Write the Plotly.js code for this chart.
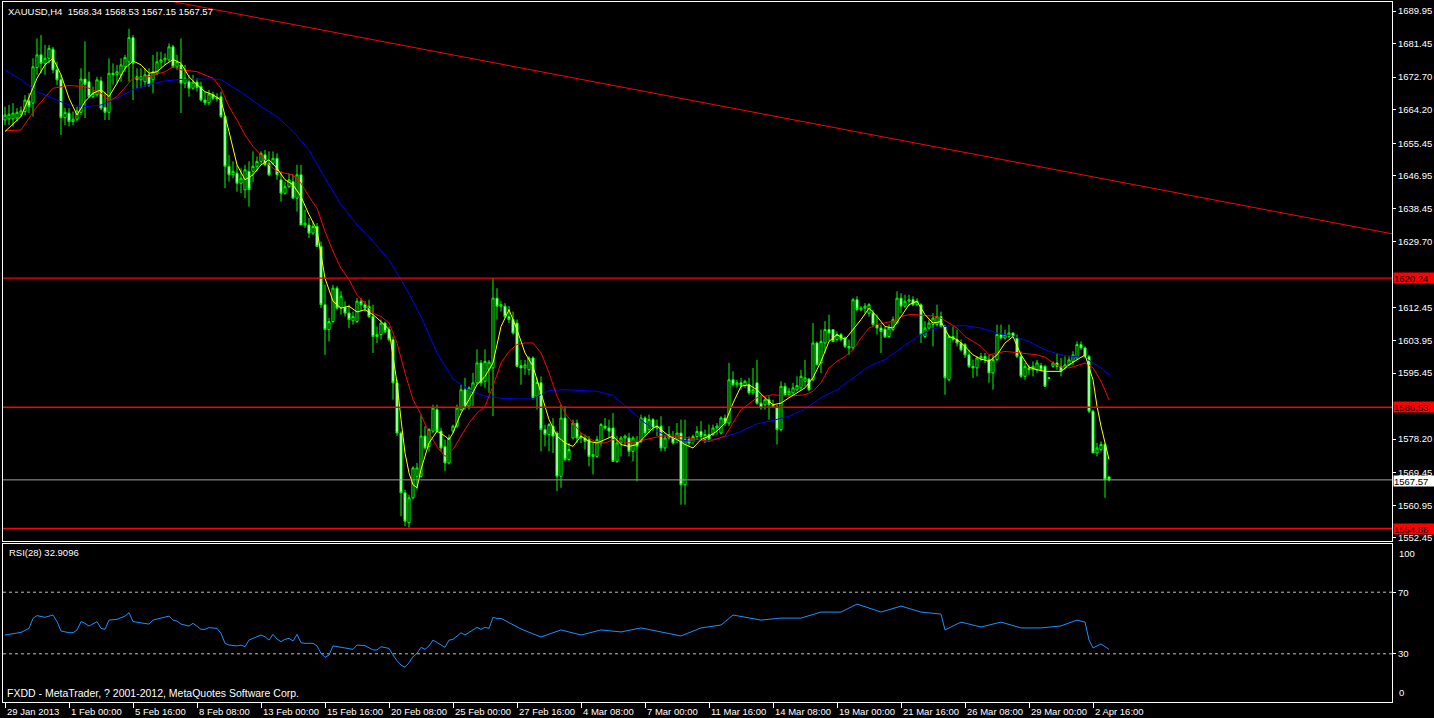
<!DOCTYPE html>
<html>
<head>
<meta charset="utf-8">
<script src="https://cdn.plot.ly/plotly-3.0.1.min.js"></script>
<style>
html,body{margin:0;padding:0;background:#000;}
#chart{width:1434px;height:718px;}
</style>
</head>
<body>
<div id="chart"></div>
<script>
// ---------------- DATA ----------------
const symbolTitle = "XAUUSD,H4  1568.34 1568.53 1567.15 1567.57";
const rsiTitle = "RSI(28) 32.9096";
const footerText = "FXDD - MetaTrader, ? 2001-2012, MetaQuotes Software Corp.";

const timeLabels = ["29 Jan 2013","1 Feb 00:00","5 Feb 16:00","8 Feb 08:00","13 Feb 00:00","15 Feb 16:00",
  "20 Feb 08:00","25 Feb 00:00","27 Feb 16:00","4 Mar 08:00","7 Mar 00:00","11 Mar 16:00","14 Mar 08:00",
  "19 Mar 00:00","21 Mar 16:00","26 Mar 08:00","29 Mar 00:00","2 Apr 16:00"];
const barsPerLabel = 16;

// visible price scale labels (the ones under the level boxes are hidden in the reference)
const priceTicks = [1689.95,1681.45,1672.70,1664.20,1655.45,1646.95,1638.45,1629.70,1612.45,1603.95,1595.45,1578.20,1569.45,1560.95,1552.45];
const priceRange = [1551.62, 1692.30];

const openP = [1661.5,1661.8,1661.8,1662.0,1663.0,1663.7,1666.5,1665.9,1675.2,1678.5,1676.3,1677.6,1680.0,1674.6,1672.0,1662.1,1663.3,1661.1,1661.7,1663.5,
1672.2,1671.5,1667.6,1668.1,1671.7,1664.8,1663.5,1673.7,1673.4,1673.3,1675.4,1676.7,1683.0,1672.8,1672.0,1671.5,1673.3,1672.0,1673.7,1676.6,
1677.2,1677.2,1680.6,1675.4,1675.9,1671.1,1671.5,1669.8,1671.4,1670.2,1666.7,1666.0,1668.1,1667.4,1667.6,1662.4,1649.4,1647.2,1647.6,1645.0,
1643.3,1648.1,1648.1,1649.4,1650.7,1652.4,1650.2,1650.2,1651.5,1645.9,1642.4,1644.1,1645.4,1641.1,1647.2,1634.1,1634.1,1632.0,1633.7,1628.5,
1613.3,1606.8,1608.9,1617.6,1612.4,1612.6,1611.1,1609.1,1608.9,1614.2,1613.3,1612.9,1610.2,1605.0,1605.5,1608.5,1606.8,1604.2,1592.9,1579.8,
1564.2,1556.4,1562.9,1568.5,1568.5,1579.0,1576.3,1580.3,1585.9,1580.3,1576.3,1572.0,1580.3,1581.6,1585.9,1591.1,1586.8,1590.3,1592.9,1598.1,
1593.3,1596.5,1596.8,1615.0,1612.9,1612.9,1610.2,1609.4,1608.5,1597.4,1596.8,1596.3,1599.4,1589.4,1592.9,1580.7,1579.4,1581.6,1579.8,1568.5,
1583.7,1572.9,1578.5,1582.4,1578.5,1578.5,1578.1,1573.7,1573.7,1577.2,1581.6,1581.1,1581.1,1572.4,1577.2,1578.5,1578.5,1575.0,1577.6,1577.6,
1583.7,1580.7,1583.3,1581.1,1581.6,1575.9,1578.5,1578.5,1578.1,1579.8,1566.3,1578.1,1577.6,1578.9,1580.2,1578.1,1579.4,1579.4,1581.1,1579.8,
1583.7,1582.4,1593.7,1592.4,1592.9,1592.2,1592.4,1590.3,1592.9,1587.6,1587.2,1588.5,1587.2,1586.4,1580.7,1592.0,1589.8,1590.3,1591.1,1591.6,
1593.3,1593.9,1593.7,1603.3,1598.1,1603.3,1606.8,1606.8,1604.2,1605.5,1604.6,1602.4,1602.0,1614.6,1612.0,1612.4,1611.1,1611.1,1608.1,1607.2,
1606.9,1605.0,1606.8,1608.5,1615.0,1612.9,1614.2,1614.6,1613.3,1613.3,1605.0,1607.2,1608.1,1608.1,1610.2,1607.6,1593.7,1605.0,1604.2,1603.3,
1602.9,1600.2,1597.2,1596.8,1599.0,1599.8,1599.0,1595.5,1599.0,1605.5,1604.6,1605.0,1605.9,1604.6,1599.8,1594.6,1596.8,1596.3,1596.3,1597.4,
1597.2,1594.2,1597.2,1598.1,1597.2,1596.8,1597.6,1598.5,1599.4,1602.9,1602.0,1599.8,1585.5,1574.6,1575.5,1576.8,1568.34];

const highP = [1665.0,1665.4,1665.9,1664.6,1665.0,1668.0,1668.5,1677.6,1682.8,1683.7,1681.1,1681.1,1680.6,1676.7,1673.3,1664.6,1664.6,1663.7,1665.0,1675.0,
1682.0,1674.1,1670.2,1672.8,1672.8,1668.9,1677.6,1676.3,1675.9,1677.6,1678.5,1685.3,1683.7,1675.0,1675.0,1675.0,1675.0,1678.5,1679.3,1679.3,
1678.9,1681.5,1681.1,1678.5,1682.8,1675.9,1673.3,1673.3,1672.4,1671.5,1668.9,1669.4,1668.9,1668.5,1668.9,1662.8,1652.4,1650.7,1649.8,1648.9,
1649.8,1650.7,1653.3,1652.0,1653.3,1653.7,1653.3,1653.3,1652.8,1648.1,1645.4,1647.6,1647.2,1649.8,1649.8,1638.1,1635.9,1635.0,1634.6,1629.8,
1618.5,1609.8,1618.5,1618.1,1616.8,1614.2,1613.3,1611.5,1615.0,1615.0,1614.2,1614.6,1613.3,1607.6,1609.4,1608.9,1607.6,1605.0,1593.7,1580.3,
1565.0,1563.7,1571.1,1572.0,1584.6,1581.6,1581.1,1587.2,1587.2,1581.1,1578.1,1579.4,1582.0,1587.2,1592.4,1594.2,1592.0,1595.5,1601.6,1598.9,
1601.6,1598.9,1620.2,1617.6,1614.2,1613.7,1612.9,1611.5,1609.4,1598.9,1598.9,1599.8,1599.8,1594.2,1594.6,1582.0,1582.4,1583.7,1580.3,1587.2,
1586.8,1577.2,1583.3,1583.3,1579.8,1579.4,1579.0,1577.2,1579.0,1582.4,1583.7,1583.3,1585.0,1579.0,1579.0,1579.4,1579.8,1579.0,1579.0,1584.6,
1584.2,1584.6,1583.7,1583.3,1584.2,1579.8,1581.6,1580.3,1582.4,1583.3,1583.3,1578.9,1579.4,1581.6,1582.9,1580.7,1582.0,1582.0,1582.4,1584.2,
1584.6,1598.1,1595.9,1593.7,1594.2,1593.7,1594.2,1596.8,1598.9,1589.8,1589.0,1589.4,1588.5,1587.2,1593.3,1592.9,1591.6,1592.9,1594.6,1596.3,
1598.9,1594.2,1608.5,1603.7,1606.8,1609.0,1610.7,1606.9,1606.3,1605.9,1605.0,1604.2,1615.0,1615.5,1612.9,1613.7,1613.7,1612.0,1610.7,1608.1,
1607.6,1608.1,1610.2,1616.8,1616.3,1615.9,1615.9,1615.5,1615.0,1613.7,1609.0,1609.4,1611.1,1613.3,1611.5,1608.1,1605.5,1607.6,1606.8,1604.2,
1603.3,1601.5,1599.0,1599.8,1600.7,1600.7,1600.2,1600.2,1608.1,1608.1,1606.8,1608.1,1606.1,1605.5,1601.1,1598.1,1597.6,1598.5,1598.9,1598.1,
1597.6,1594.3,1598.5,1600.7,1599.4,1599.8,1599.8,1601.1,1603.7,1603.7,1602.4,1600.2,1585.9,1577.2,1577.6,1577.2,1568.53];

const lowP = [1660.2,1660.2,1659.8,1661.1,1662.4,1662.8,1663.3,1662.4,1673.3,1673.7,1673.3,1676.3,1673.7,1670.7,1657.6,1660.2,1659.8,1660.2,1661.1,1662.8,
1662.0,1667.2,1667.2,1667.6,1664.1,1661.5,1661.5,1670.7,1671.1,1671.5,1674.1,1671.5,1666.7,1669.8,1669.8,1670.2,1670.2,1668.5,1673.3,1675.0,
1675.9,1676.7,1675.0,1674.6,1663.3,1669.8,1667.6,1669.4,1668.9,1666.3,1665.4,1665.4,1666.7,1666.3,1662.0,1643.7,1645.4,1646.3,1642.8,1642.4,
1641.1,1638.9,1645.4,1648.1,1649.8,1649.4,1646.8,1649.8,1645.9,1640.2,1642.0,1643.7,1641.1,1637.6,1634.1,1633.3,1630.7,1631.5,1628.5,1612.4,
1600.2,1603.7,1608.5,1612.0,1610.7,1610.2,1607.2,1608.1,1608.5,1611.5,1611.5,1609.8,1600.7,1603.3,1604.2,1605.9,1603.7,1588.5,1579.0,1558.1,
1555.5,1555.1,1562.4,1565.0,1568.1,1575.5,1575.0,1579.8,1579.8,1575.0,1569.8,1571.6,1579.8,1581.1,1585.5,1585.9,1585.9,1586.8,1592.4,1592.0,
1591.6,1590.3,1584.2,1609.4,1611.5,1609.8,1608.5,1605.5,1597.2,1592.4,1595.0,1595.0,1588.5,1585.9,1575.0,1576.3,1575.0,1574.6,1564.6,1565.5,
1572.4,1572.4,1578.1,1577.2,1577.2,1575.5,1571.1,1569.0,1573.3,1576.3,1580.7,1578.5,1572.4,1572.0,1573.7,1576.3,1573.7,1572.4,1567.2,1577.2,
1579.0,1579.8,1580.3,1579.0,1575.0,1575.0,1578.1,1576.8,1577.2,1561.1,1561.1,1576.3,1576.8,1578.1,1578.1,1577.2,1577.6,1579.0,1579.4,1579.4,
1581.6,1581.6,1592.0,1591.6,1591.1,1591.6,1589.8,1589.8,1587.2,1585.9,1585.9,1583.3,1586.4,1576.8,1580.2,1589.4,1589.4,1589.8,1590.7,1591.1,
1592.0,1590.7,1593.3,1597.6,1595.5,1600.7,1603.7,1603.5,1603.7,1603.7,1602.0,1600.2,1601.5,1611.6,1611.6,1611.1,1610.2,1607.6,1605.5,1600.7,
1604.6,1604.6,1606.3,1608.1,1611.1,1612.4,1612.9,1612.9,1612.9,1603.3,1604.6,1606.8,1602.4,1607.6,1607.2,1589.8,1593.3,1603.7,1602.4,1601.1,
1599.4,1596.8,1594.2,1594.6,1598.5,1598.1,1592.9,1591.1,1598.5,1604.2,1604.2,1604.6,1604.6,1599.4,1594.2,1593.7,1595.0,1594.6,1595.5,1595.9,
1592.0,1594.0,1596.8,1596.3,1594.6,1596.3,1597.2,1597.6,1598.9,1601.5,1599.4,1585.0,1574.6,1573.7,1575.0,1562.9,1567.15];

const closeP = [1662.8,1663.0,1663.3,1663.5,1663.9,1666.7,1665.0,1675.4,1678.5,1676.3,1677.6,1680.2,1674.6,1672.0,1662.1,1663.5,1661.1,1661.7,1663.9,1672.2,
1670.8,1667.6,1668.5,1672.0,1664.6,1663.5,1673.7,1673.3,1674.1,1675.9,1677.8,1683.0,1676.3,1672.0,1672.8,1673.3,1670.7,1674.1,1676.7,1677.2,
1677.6,1680.6,1675.4,1676.7,1671.1,1672.4,1669.8,1671.4,1670.0,1666.7,1666.0,1668.3,1667.2,1667.0,1662.4,1649.4,1647.2,1648.1,1645.0,1646.3,
1648.5,1643.3,1649.4,1650.7,1652.8,1649.8,1647.2,1651.5,1647.2,1642.4,1644.1,1645.9,1641.1,1647.2,1634.1,1634.6,1632.0,1633.7,1628.5,1613.3,
1606.8,1608.9,1617.6,1612.4,1615.5,1611.1,1609.4,1610.2,1614.2,1613.3,1612.4,1610.2,1605.0,1605.5,1608.5,1606.3,1604.2,1592.9,1579.8,1564.2,
1556.8,1562.9,1570.7,1570.7,1579.0,1575.9,1580.7,1586.3,1580.3,1575.9,1572.0,1578.5,1581.6,1586.3,1591.1,1586.8,1591.6,1592.9,1598.1,1592.9,
1598.5,1598.3,1615.0,1612.9,1613.3,1610.2,1609.4,1605.9,1597.2,1596.8,1597.6,1599.4,1589.0,1593.0,1580.7,1579.4,1582.0,1579.0,1568.5,1583.7,
1572.9,1575.5,1582.4,1578.5,1579.0,1577.6,1573.7,1574.2,1578.1,1582.0,1581.1,1580.3,1572.4,1577.2,1578.5,1579.0,1575.0,1578.5,1576.3,1583.7,
1579.8,1583.3,1581.1,1581.6,1575.9,1578.5,1579.4,1577.2,1579.8,1566.3,1578.1,1577.2,1578.9,1580.2,1578.9,1579.4,1578.1,1581.1,1581.6,1583.7,
1582.4,1593.7,1592.4,1592.9,1592.2,1593.3,1590.3,1591.1,1587.6,1586.4,1588.5,1587.2,1586.8,1580.7,1592.0,1589.8,1590.7,1591.6,1592.2,1594.6,
1594.2,1591.1,1603.3,1597.6,1603.7,1606.8,1605.9,1603.7,1605.5,1604.2,1602.4,1602.0,1614.6,1612.0,1612.4,1612.9,1613.3,1608.1,1607.2,1606.3,
1604.9,1607.2,1609.4,1615.0,1612.9,1614.2,1614.6,1613.3,1614.2,1605.5,1607.2,1608.5,1609.8,1610.2,1607.6,1594.2,1605.0,1604.2,1603.3,1601.5,
1600.2,1597.2,1596.8,1599.4,1599.8,1599.0,1595.5,1599.0,1605.5,1604.6,1605.5,1605.9,1605.0,1599.8,1594.6,1597.2,1596.3,1597.2,1598.1,1596.3,
1592.0,1594.1,1598.1,1597.2,1595.9,1597.6,1598.9,1600.2,1602.9,1602.0,1599.8,1585.5,1574.6,1575.9,1576.8,1567.7,1567.57];

// Fast MA (yellow)
const maFastX = [0,4,8,10,12,14,16,18,20,22,24,26,28,30,32,34,36,38,40,42,44,46,48,50,52,54,56,58,60,62,64,66,68,70,72,74,76,78,80,82,84,86,88,90,
92,94,96,98,99,100,101,102,103,104,106,108,110,111,112,114,116,118,120,122,124,126,128,130,132,134,136,138,140,142,144,146,148,150,152,154,156,158,160,162,163,
164,166,168,170,172,174,176,178,180,182,184,186,188,190,192,194,196,198,200,202,204,206,208,210,212,214,216,218,220,222,224,226,228,230,232,234,236,238,240,242,244,246,248,250,252,254,256,258,260,262,264,266,268,270,272,273,274,275,276];
const maFastY = [1658.5,1662.4,1672.4,1675.9,1677.6,1673.3,1667.2,1662.8,1666.3,1668.5,1669.4,1667.6,1671.1,1675.0,1676.9,1675.9,1673.7,1674.1,1675.9,1677.3,1676.3,1672.8,1670.7,1668.9,1668.1,1666.7,1658.5,1649.8,1645.9,1647.2,1649.8,1651.1,1648.9,1645.9,1644.6,1641.5,1636.8,1632.8,1620.2,1614.2,1612.4,1612.9,1611.4,1612.0,
1610.7,1608.9,1606.8,1592.9,1583.3,1574.6,1569.4,1566.3,1565.5,1570.3,1577.2,1580.3,1579.0,1578.1,1579.8,1585.0,1588.5,1592.4,1594.6,1598.1,1607.6,1612.0,1606.8,1600.7,1597.2,1590.3,1583.3,1579.0,1577.2,1576.3,1579.0,1577.6,1577.2,1578.1,1579.0,1576.8,1576.3,1576.8,1579.0,1581.1,1581.6,
1580.7,1579.0,1578.1,1576.8,1575.9,1578.1,1579.0,1580.3,1582.4,1587.6,1592.0,1592.4,1591.1,1589.0,1587.2,1587.6,1589.0,1590.3,1591.6,1594.2,1598.5,1603.7,1605.5,1604.2,1606.8,1609.4,1612.4,1610.2,1607.6,1607.2,1610.2,1613.3,1614.2,1610.7,1608.5,1608.9,1605.0,1604.2,1602.4,1600.2,1599.1,1598.5,1600.2,1603.3,1605.0,1600.2,1597.0,1596.3,1595.9,1595.9,1595.9,1597.6,1598.9,1600.2,1593.7,1586.8,1581.6,1577.2,1572.9];

// Medium MA (red)
const maMidX = [0,4,8,12,16,20,24,26,28,32,36,40,42,44,48,52,54,56,58,60,62,64,66,68,70,72,74,76,78,80,82,84,86,88,90,
92,94,96,98,100,102,104,106,108,110,112,114,116,118,120,122,124,126,128,130,132,134,136,138,140,142,144,146,148,150,152,154,156,158,160,162,
164,168,172,176,180,182,184,188,192,196,200,202,204,206,208,210,212,214,216,218,220,222,224,226,228,230,232,234,236,238,240,242,244,246,248,250,252,254,256,258,260,262,264,266,268,270,272,274,276];
const maMidY = [1658.7,1658.9,1665.0,1669.8,1670.5,1670.2,1668.5,1666.5,1667.6,1672.4,1672.8,1674.1,1675.4,1674.6,1674.1,1672.4,1669.8,1665.0,1661.5,1657.6,1654.6,1652.4,1649.8,1648.1,1647.6,1647.2,1645.0,1641.5,1638.5,1632.4,1627.2,1622.8,1619.8,1615.9,1613.7,
1611.1,1610.2,1608.5,1603.3,1595.5,1588.5,1584.6,1579.8,1576.3,1573.7,1575.5,1579.0,1582.4,1585.0,1586.8,1592.0,1598.1,1601.1,1602.9,1603.3,1603.3,1600.7,1595.5,1589.4,1585.0,1582.4,1579.8,1578.5,1577.2,1577.2,1578.1,1577.6,1577.2,1577.6,1578.1,1578.5,
1579.0,1579.0,1578.3,1577.6,1579.0,1582.4,1585.9,1589.0,1589.8,1589.4,1589.8,1590.7,1592.9,1596.8,1598.5,1599.8,1601.5,1604.6,1607.2,1608.1,1608.5,1609.0,1610.2,1610.7,1610.7,1610.4,1610.4,1609.8,1608.5,1607.2,1605.0,1603.7,1602.4,1600.2,1600.7,1601.1,1600.9,1600.7,1600.5,1600.2,1599.6,1598.1,1597.0,1596.8,1597.4,1598.1,1596.8,1593.3,1588.5];

// Slow MA (blue)
const maSlowX = [0,4,8,12,16,20,24,28,32,36,40,44,48,52,54,56,60,64,68,72,76,80,84,88,91,
92,96,100,104,108,112,116,120,124,128,132,134,136,140,144,148,152,156,160,163,
164,168,172,176,180,184,188,192,196,200,204,208,212,216,220,224,228,232,236,240,244,248,252,256,260,264,268,270,272,274,276];
const maSlowY = [1674.6,1672.0,1668.9,1667.2,1665.4,1665.0,1665.4,1667.2,1669.4,1670.8,1671.7,1672.1,1672.1,1672.2,1672.0,1670.7,1668.1,1665.0,1662.4,1658.5,1653.7,1646.3,1639.4,1634.1,1631.1,
1629.8,1625.0,1618.1,1610.2,1600.7,1593.9,1591.1,1589.4,1588.9,1588.7,1588.7,1589.8,1590.9,1591.1,1590.9,1590.7,1589.6,1585.9,1582.4,1580.3,
1579.8,1578.1,1577.6,1577.9,1578.8,1580.2,1582.2,1583.1,1584.2,1586.1,1589.0,1591.1,1594.2,1597.2,1599.0,1602.0,1604.9,1607.0,1607.8,1607.8,1607.2,1605.9,1605.0,1603.7,1601.5,1600.2,1599.6,1599.4,1598.1,1596.8,1595.0];

// RSI(28)
const rsiX = [0,4,6,7,8,10,12,13,14,16,17,18,19,20,21,23,24,25,26,28,30,31,32,34,36,37,39,41,42,43,44,46,47,48,49,50,51,53,54,55,
56,58,59,60,61,63,64,65,66,67,68,69,70,71,72,73,74,75,77,78,79,80,81,82,84,86,87,88,90,92,93,94,96,97,98,99,100,101,102,103,
104,105,106,107,108,109,110,111,112,113,114,115,117,118,119,120,121,122,123,124,129,134,139,144,149,154,159,164,169,174,
179,182,189,194,199,204,209,213,219,224,229,234,235,239,244,249,254,259,264,268,270,271,272,274,276];
const rsiY = [42.2,43.9,46.5,53.0,54.8,53.7,55.2,50.9,44.8,43.7,43.7,45.4,50.9,49.8,48.0,50.9,46.5,45.9,51.9,52.4,54.5,56.7,50.9,50.2,49.3,51.9,53.0,54.5,51.9,51.3,49.3,48.0,49.8,48.0,45.9,45.9,47.0,46.5,43.3,36.8,
35.7,35.1,35.7,34.6,38.9,41.1,42.2,41.1,38.9,42.6,39.6,37.9,39.4,40.0,38.3,42.6,37.2,36.8,36.8,35.1,30.3,27.7,29.2,35.1,34.2,33.1,32.9,35.7,35.3,32.5,32.5,34.6,33.5,29.2,25.5,22.7,21.2,24.2,28.1,30.3,
34.2,32.9,35.1,38.9,37.2,35.7,34.2,38.9,39.4,41.5,43.7,42.2,45.4,47.2,45.9,47.2,46.5,53.7,53.0,53.0,46.1,40.9,45.5,42.2,45.5,44.2,46.8,44.2,41.6,46.8,
48.7,55.2,51.9,53.2,53.2,57.1,57.1,62.3,57.1,61.0,57.1,55.8,45.5,50.6,47.4,50.6,46.8,46.8,48.1,51.9,50.6,39.0,33.8,36.4,32.9];
const rsiLevels = [70, 30];
const rsiLabels = [100, 70, 30, 0];

// Chart objects
const redLevels = [1620.24, 1586.53, 1554.88];
const currentPrice = 1567.57;
const trendX = [40, 346.75];
const trendY = [1692.8, 1631.8];

// ---------------- BUILD ----------------
const FONT = "Liberation Sans, Arial, sans-serif";
const barIdx = closeP.map((_, i) => i);
const xRange = [-0.5, 346.75];
const tickIdx = timeLabels.map((_, k) => k * barsPerLabel);

const traces = [
  {
    type: 'candlestick', x: barIdx, open: openP, high: highP, low: lowP, close: closeP,
    xaxis: 'x', yaxis: 'y',
    increasing: {line: {color: '#00FF00', width: 1}, fillcolor: '#000000'},
    decreasing: {line: {color: '#00FF00', width: 1}, fillcolor: '#FFFFFF'},
    whiskerwidth: 0, hoverinfo: 'skip', showlegend: false
  },
  {type: 'scatter', mode: 'lines', x: maSlowX, y: maSlowY, xaxis: 'x', yaxis: 'y',
   line: {color: '#0000FF', width: 1}, hoverinfo: 'skip', showlegend: false},
  {type: 'scatter', mode: 'lines', x: maMidX, y: maMidY, xaxis: 'x', yaxis: 'y',
   line: {color: '#FF0000', width: 1}, hoverinfo: 'skip', showlegend: false},
  {type: 'scatter', mode: 'lines', x: maFastX, y: maFastY, xaxis: 'x', yaxis: 'y',
   line: {color: '#FFFF00', width: 1}, hoverinfo: 'skip', showlegend: false},
  {type: 'scatter', mode: 'lines', x: rsiX, y: rsiY, xaxis: 'x2', yaxis: 'y2',
   line: {color: '#1E90FF', width: 1}, hoverinfo: 'skip', showlegend: false}
];

const shapes = [];
redLevels.forEach(p => shapes.push({type: 'line', xref: 'paper', x0: 0, x1: 1, yref: 'y', y0: p, y1: p,
  line: {color: '#FF0000', width: 1.3}, layer: 'above'}));
shapes.push({type: 'line', xref: 'paper', x0: 0, x1: 1, yref: 'y', y0: currentPrice, y1: currentPrice,
  line: {color: '#A0A0A0', width: 1}, layer: 'above'});
shapes.push({type: 'line', xref: 'x', x0: trendX[0], x1: trendX[1], yref: 'y', y0: trendY[0], y1: trendY[1],
  line: {color: '#FF0000', width: 1}, layer: 'above'});
rsiLevels.forEach(v => shapes.push({type: 'line', xref: 'paper', x0: 0, x1: 1, yref: 'y2', y0: v, y1: v,
  line: {color: '#C0C0C0', width: 1, dash: '3px,3px'}, layer: 'below'}));

const annotations = [];
const txt = (o) => Object.assign({showarrow: false, font: {family: FONT, size: 10, color: '#FFFFFF'}}, o);
annotations.push(txt({text: symbolTitle, xref: 'paper', yref: 'paper', x: 0, y: 1, xanchor: 'left', yanchor: 'top',
  xshift: 3, yshift: -2, font: {family: FONT, size: 9.5, color: '#FFFFFF'}}));
annotations.push(txt({text: rsiTitle, xref: 'paper', yref: 'y2 domain', x: 0, y: 1, xanchor: 'left', yanchor: 'top',
  xshift: 4, yshift: -1, font: {family: FONT, size: 9.5, color: '#FFFFFF'}}));
annotations.push(txt({text: footerText, xref: 'paper', yref: 'y2 domain', x: 0, y: 0, xanchor: 'left', yanchor: 'bottom',
  xshift: 2, yshift: 1, font: {family: FONT, size: 10.5, color: '#FFFFFF'}}));
timeLabels.forEach((t, k) => annotations.push(txt({text: t, xref: 'x2', yref: 'paper', x: tickIdx[k], y: 0,
  xanchor: 'left', yanchor: 'top', xshift: 0, yshift: -2, font: {family: FONT, size: 9.5, color: '#FFFFFF'}})));
// RSI scale end labels
annotations.push(txt({text: String(rsiLabels[0]), xref: 'paper', yref: 'y2', x: 1, y: rsiLabels[0], xanchor: 'left', yanchor: 'top',
  xshift: 5, font: {family: FONT, size: 9.5, color: '#FFFFFF'}}));
annotations.push(txt({text: String(rsiLabels[3]), xref: 'paper', yref: 'y2', x: 1, y: rsiLabels[3], xanchor: 'left', yanchor: 'bottom',
  xshift: 5, font: {family: FONT, size: 9.5, color: '#FFFFFF'}}));
// price level labels
redLevels.forEach(p => annotations.push({text: p.toFixed(2), showarrow: false, xref: 'paper', yref: 'y', x: 1, y: p,
  xanchor: 'left', yanchor: 'middle', xshift: 1, width: 40, height: 10, align: 'left', bgcolor: '#FF0000', borderpad: 0,
  font: {family: FONT, size: 9.5, color: '#000000'}}));
annotations.push({text: currentPrice.toFixed(2), showarrow: false, xref: 'paper', yref: 'y', x: 1, y: currentPrice,
  xanchor: 'left', yanchor: 'middle', xshift: 1, yshift: -1, width: 40, height: 10, align: 'left', bgcolor: '#FFFFFF', borderpad: 0,
  font: {family: FONT, size: 9.5, color: '#000000'}});

const axisCommon = {showgrid: false, zeroline: false, showline: true, mirror: true, linecolor: '#FFFFFF', linewidth: 1};
const layout = {
  width: 1434, height: 718,
  margin: {l: 3, r: 42, t: 2, b: 16, pad: 0},
  paper_bgcolor: '#000000', plot_bgcolor: '#000000',
  showlegend: false, boxgap: 0.25, hovermode: false,
  font: {family: FONT, color: '#FFFFFF', size: 9.5},
  xaxis: Object.assign({}, axisCommon, {anchor: 'y', range: xRange, showticklabels: false, ticks: '',
    rangeslider: {visible: false}, fixedrange: true}),
  xaxis2: Object.assign({}, axisCommon, {anchor: 'y2', matches: 'x', range: xRange, showticklabels: false,
    ticks: 'outside', ticklen: 5, tickcolor: '#FFFFFF', tickwidth: 1, tickvals: tickIdx, fixedrange: true}),
  yaxis: Object.assign({}, axisCommon, {domain: [0.23, 1], range: priceRange, side: 'right',
    tickvals: priceTicks, ticktext: priceTicks.map(v => v.toFixed(2)), ticks: 'outside', ticklen: 3,
    tickcolor: '#FFFFFF', tickfont: {family: FONT, size: 9.5, color: '#FFFFFF'}, fixedrange: true}),
  yaxis2: Object.assign({}, axisCommon, {domain: [0, 0.2257], range: [-1.3, 101.3], side: 'right',
    tickvals: rsiLevels, ticktext: rsiLevels.map(String), ticks: 'outside', ticklen: 3, tickcolor: '#FFFFFF',
    tickfont: {family: FONT, size: 9.5, color: '#FFFFFF'}, fixedrange: true}),
  shapes: shapes,
  annotations: annotations
};

Plotly.newPlot('chart', traces, layout, {staticPlot: true, displayModeBar: false});
</script>
</body>
</html>
